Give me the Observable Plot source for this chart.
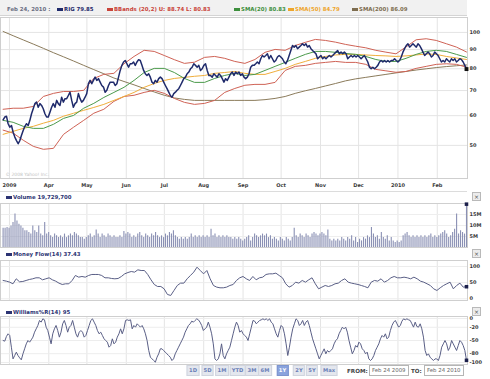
<!DOCTYPE html>
<html><head><meta charset="utf-8">
<script src="https://cdn.jsdelivr.net/npm/d3@7"></script>
<script src="https://cdn.jsdelivr.net/npm/@observablehq/plot@0.6"></script>
<style>
html,body{margin:0;padding:0;background:#fff;}
#wrap{position:relative;width:490px;height:379px;overflow:hidden;font-family:"DejaVu Sans",Verdana,sans-serif;}
#wrap svg{position:absolute;left:0;}
.t{position:absolute;white-space:nowrap;font-weight:bold;font-size:5.4px;line-height:6px;}
.mk{position:absolute;width:6px;height:3px;}
.btn{position:absolute;top:365px;height:11px;line-height:9px;font-size:5.2px;font-weight:bold;color:#6a7fb8;background:#e4e7ee;border:1px solid #d0d4de;transform:translateX(-50%);padding:0 1.5px;box-sizing:border-box;white-space:nowrap;}
.btn.on{background:#8aa3dd;color:#fff;border-color:#7d95cf;}
.inp{position:absolute;top:365px;height:11px;line-height:9px;font-size:5.4px;color:#666;border:1px solid #b5b5b5;background:#fff;box-sizing:border-box;padding-left:2px;}
.cls{position:absolute;left:472px;width:9px;height:9px;border:1px solid #b9b9b9;background:#ececec;box-sizing:border-box;font-size:6px;line-height:7px;text-align:center;color:#555;}
</style></head>
<body><div id="wrap"></div>
<script>
// ---------- data ----------
const rigClose = [58.5,59.5,59.8,57.1,55.9,56.5,54.2,52.6,51.5,50.5,51.5,53.2,54.8,56.2,57.1,56.5,58.3,60.7,62.6,64.6,65.2,63.2,64.6,63.9,62.6,60.7,59.5,59.5,61.3,63.2,64.6,63.2,65.9,64.6,63.9,67.2,65.2,66.6,66.6,67.9,69.3,65.9,63.2,64.6,65.2,68.7,66.6,65.2,65.9,67.2,68.7,73.0,74.5,73.0,74.5,76.0,74.5,75.3,73.7,72.2,71.5,69.3,70.1,72.2,73.7,73.7,
73.7,72.2,73.0,76.0,79.2,81.7,83.4,84.2,82.5,80.8,82.5,82.5,83.4,81.7,83.4,84.6,84.2,81.7,79.2,77.6,76.8,77.6,76.0,73.7,73.0,74.5,73.7,75.3,76.0,75.3,73.7,72.2,70.8,69.3,67.9,67.2,68.7,69.3,70.1,70.8,72.2,73.7,75.3,76.0,77.6,78.4,80.0,80.8,82.5,81.7,80.8,81.7,79.2,80.0,81.7,82.5,79.2,76.8,76.8,76.0,77.6,76.8,76.0,77.6,76.8,75.3,73.7,75.3,74.5,
76.0,77.6,78.4,76.8,78.4,77.6,78.4,76.8,77.6,76.0,75.3,76.0,77.6,80.8,81.7,81.7,82.5,83.4,82.5,85.1,86.8,86.0,86.8,87.7,85.1,86.8,85.1,83.4,84.2,86.0,86.8,86.0,85.1,83.4,82.5,84.2,86.8,89.5,92.3,91.4,92.3,90.5,91.4,92.3,93.3,92.3,93.3,91.4,92.3,90.5,89.5,88.6,87.7,85.1,86.0,86.8,85.1,86.0,85.1,86.0,86.8,86.0,86.8,87.7,88.6,89.5,87.7,88.6,87.7,
88.6,87.7,85.1,86.0,86.8,86.0,86.8,86.0,86.8,86.0,85.1,86.0,86.8,85.1,83.4,80.8,80.0,80.8,80.0,80.8,81.7,83.4,84.2,83.4,84.2,83.4,84.2,83.4,84.2,84.2,85.1,84.2,83.4,84.2,86.0,88.6,90.5,92.3,93.3,91.4,92.3,93.3,92.3,91.4,93.3,92.3,90.5,88.6,86.8,87.7,88.6,87.7,86.0,86.8,88.6,87.7,86.8,85.1,83.4,84.2,83.4,85.1,84.2,83.4,85.1,84.2,85.1,83.4,84.2,85.1,84.6,83.4,81.7,79.85];

const bbUpper = [62.4,62.8,62.8,63.5,67.5,68.8,69.6,69.6,70.1,75.4,77.3,77.8,82.5,86.3,89.6,89.0,86.8,84.6,82.7,83.3,85.8,86.3,85.3,83.7,82.7,84.7,88.5,90.1,89.6,92.3,94.1,95.8,95.2,94.2,92.9,91.9,91.0,89.6,88.6,87.7,91.5,95.6,96.2,95.2,93.3,91.4,88.7];
const bbLower = [54.9,53.9,51.6,49.7,48.8,49.1,53.5,55.9,58.3,60.9,62.4,65.5,67.5,68.0,69.2,70.1,68.8,66.7,65.1,64.3,64.7,65.9,69.2,70.9,72.3,72.7,72.7,73.6,79.2,81.2,81.7,82.7,83.2,83.7,83.2,83.2,82.2,79.7,79.0,78.3,78.7,80.2,81.2,82.2,82.5,82.2,80.8];
const sma20 = [58.3,57.6,56.2,55.5,55.5,56.9,59.0,60.1,62.8,64.7,67.1,69.2,71.4,74.5,78.2,80.2,80.2,78.2,75.4,73.6,73.6,75.4,76.8,77.8,76.8,77.3,79.2,81.2,83.2,85.3,87.4,89.0,89.0,88.5,87.9,87.4,86.3,84.7,83.7,83.7,85.3,87.4,89.0,89.6,89.0,87.4,85.8];
const sma50 = [53.5,54.5,55.5,56.2,57.3,58.3,59.8,60.9,62.0,63.1,64.3,65.9,67.5,69.2,71.4,73.1,74.5,75.4,75.9,76.4,76.8,77.8,78.2,78.7,77.8,77.3,77.3,78.7,80.2,82.2,83.7,85.3,86.3,87.1,87.4,87.4,87.1,86.8,86.6,86.3,86.6,87.1,87.6,87.4,86.3,85.5,84.7];
const sma200 = [100.6,98.0,95.5,93.1,90.7,88.3,86.1,83.9,81.7,79.6,77.6,75.6,74.0,72.5,70.9,69.4,68.0,66.9,66.3,65.9,65.9,65.9,65.9,65.9,65.9,65.9,66.2,66.7,67.5,68.8,69.9,70.9,72.0,73.1,74.3,75.2,75.9,76.6,77.3,78.0,78.7,79.4,80.0,80.6,81.1,81.5,81.9];

const volumeM = [8.8,8.8,9.1,8.8,9.8,11.4,15.2,12.1,10.6,9.8,8.8,7.6,7.6,6.8,6.1,9.8,7.6,6.8,9.8,6.1,5.3,11.4,6.1,6.8,5.3,4.5,6.1,5.3,4.5,5.3,4.5,6.1,4.5,5.3,6.1,5.3,6.8,6.1,5.3,4.5,4.5,3.8,4.5,5.3,6.1,4.5,5.3,7.9,6.1,4.5,6.1,5.3,4.5,6.1,5.3,4.5,5.3,4.5,4.5,5.3,4.5,7.3,6.1,6.8,6.1,4.5,5.3,4.5,6.1,6.8,5.3,4.5,6.1,5.3,4.5,6.1,5.3,6.8,5.3,4.5,5.3,4.5,6.1,5.3,6.8,6.1,7.6,5.3,4.5,3.8,4.5,3.8,4.5,3.8,4.5,6.1,4.5,5.3,4.5,5.3,4.5,5.3,4.5,5.3,4.5,8.3,5.3,6.1,4.5,5.3,4.5,5.3,4.5,5.3,4.5,4.5,3.8,4.5,3.8,4.5,3.8,3.0,3.8,
4.5,5.3,3.0,4.5,6.1,5.3,4.5,5.3,6.1,5.3,6.1,4.5,5.3,3.8,4.5,3.8,3.0,4.5,3.8,3.0,4.5,3.8,3.0,4.5,8.8,5.3,4.5,6.1,5.3,4.5,6.1,5.3,4.5,6.1,6.8,6.1,5.3,6.1,6.8,6.1,5.3,7.9,3.8,3.0,3.8,3.0,3.8,3.0,4.5,3.8,3.0,4.5,3.8,5.3,3.0,4.5,2.3,3.8,3.0,4.5,3.8,5.3,4.5,9.1,6.1,4.5,5.3,3.8,6.8,4.5,3.8,5.3,3.0,4.5,3.0,2.3,3.0,2.3,3.0,5.3,6.1,6.8,5.3,4.5,5.3,4.5,5.3,4.5,5.3,4.5,5.3,4.5,5.3,6.1,4.5,5.3,4.5,5.3,6.1,6.8,7.6,6.1,4.5,5.3,6.8,8.3,15.2,6.1,7.6,6.8,6.1,19.7];

const moneyFlow = [56.7,54.6,51.5,46.4,61.9,52.6,53.6,56.7,59.8,61.9,65.0,65.0,58.8,61.9,65.0,58.8,54.6,48.5,44.3,46.4,46.4,56.7,72.2,67.0,69.1,67.0,72.2,75.3,75.3,75.3,72.2,65.0,65.0,62.9,61.9,62.9,69.1,77.3,81.4,84.5,82.5,89.7,87.6,87.6,75.3,58.8,44.3,38.1,38.1,30.9,13.4,10.3,25.8,41.2,48.5,48.5,61.9,72.2,82.5,97.9,87.6,77.3,87.6,61.9,41.2,36.1,34.0,34.0,36.1,41.2,44.3,56.7,65.0,69.1,
61.9,56.7,69.1,58.8,65.0,67.0,75.3,77.3,77.3,79.4,72.2,65.0,46.4,36.1,41.2,51.5,48.5,56.7,51.5,58.8,65.0,46.4,30.9,36.1,41.2,38.1,41.2,46.4,48.5,56.7,61.9,51.5,48.5,46.4,44.3,41.2,38.1,34.0,51.5,56.7,54.6,61.9,51.5,56.7,65.0,69.1,65.0,65.0,67.0,65.0,61.9,67.0,61.9,54.6,51.5,46.4,41.2,30.9,25.8,34.0,41.2,46.4,51.5,30.9,41.2,48.5,36.1,37.4];

const williamsR = [-50.0,-51.5,-40.9,-34.8,-38.6,-65.2,-91.7,-84.1,-76.5,-84.1,-89.4,-93.9,-80.3,-68.9,-57.6,-50.0,-53.8,-48.5,-42.4,-31.1,-23.5,-15.9,-4.5,-8.3,-0.8,-3.0,-19.7,-27.3,-42.4,-57.6,-34.8,-23.5,-15.9,-27.3,-42.4,-31.1,-12.1,-4.5,-15.9,-31.1,-19.7,-15.9,-4.5,-19.7,-34.8,-42.4,-31.1,-27.3,-31.1,-42.4,-38.6,-27.3,-15.9,-4.5,-0.8,-8.3,-15.9,-27.3,-34.8,-31.1,-38.6,-46.2,-50.0,-53.8,-65.2,-61.4,-46.2,-57.6,-53.8,-42.4,-34.8,-23.5,-34.8,-23.5,-4.5,-3.0,-4.5,-3.0,-23.5,-15.9,-19.7,-12.1,-15.9,-19.7,-15.9,-23.5,-34.8,-50.0,-72.7,-87.9,-91.7,-95.5,-99.2,-87.9,-80.3,-68.9,-68.9,-72.7,-76.5,-80.3,-84.1,-87.9,-95.5,-91.7,-80.3,-72.7,-65.2,-57.6,-50.0,-42.4,-31.1,-23.5,-15.9,-12.1,-6.1,-8.3,-4.5,-0.8,-3.0,-8.3,-15.9,-27.3,-23.5,-19.7,-8.3,-19.7,-34.8,-57.6,-91.7,-95.5,-91.7,-80.3,-57.6,-84.1,-91.7,-80.3,-72.7,-65.2,-50.0,-34.8,-19.7,-8.3,-15.9,-31.1,-27.3,-34.8,-38.6,
-42.4,-50.0,-34.8,-19.7,-4.5,-6.1,-12.1,-8.3,-4.5,-3.0,-0.8,-3.0,-0.8,-4.5,-0.8,-8.3,-12.1,-23.5,-34.8,-42.4,-27.3,-15.9,-19.7,-34.8,-57.6,-84.1,-65.2,-42.4,-23.5,-12.1,-0.8,-4.5,-15.9,-12.1,-4.5,-15.9,-8.3,-4.5,-15.9,-31.1,-46.2,-57.6,-68.9,-80.3,-91.7,-84.1,-76.5,-68.9,-80.3,-72.7,-76.5,-72.7,-68.9,-57.6,-50.0,-46.2,-34.8,-27.3,-19.7,-23.5,-19.7,-31.1,-50.0,-65.2,-80.3,-72.7,-61.4,-65.2,-53.8,-57.6,-68.9,-72.7,-80.3,-76.5,-91.7,-95.5,-91.7,-84.1,-72.7,-65.2,-57.6,-46.2,-38.6,-42.4,-34.8,-46.2,-42.4,-27.3,-15.9,-8.3,-4.5,-12.1,-19.7,-15.9,-6.1,-0.8,-3.0,-0.8,-3.0,-4.5,-12.1,-19.7,-8.3,-18.2,-19.7,-12.1,-23.5,-42.4,-72.7,-84.1,-80.3,-87.9,-91.7,-95.5,-91.7,-91.7,-95.5,-84.1,-65.2,-57.6,-50.0,-57.6,-72.7,-65.2,-50.0,-57.6,-65.2,-72.7,-61.4,-50.0,-53.8,-61.4,-72.7,-95];

const monthTicks = ["2009-03-01","2009-04-01","2009-05-01","2009-06-01","2009-07-01","2009-08-01","2009-09-01","2009-10-01","2009-11-01","2009-12-01","2010-01-01","2010-02-01"];
const monthLabels = ["2009","Apr","May","Jun","Jul","Aug","Sep","Oct","Nov","Dec","2010","Feb"];
const priceTicks = [50,60,70,80,90,100];
const volTicks = [5,10,15];
const volTickLabels = ["5M","10M","15M"];
const mfTicks = [0,50,100];
const wrTicks = [0,-20,-50,-80,-100];
const rangeButtons = ["1D","5D","1M","YTD","3M","6M","1Y","2Y","5Y","Max"];
const legendItems = [
  {label:"RIG 79.85", color:"#1f2a6b", x:57},
  {label:"BBands (20,2) U: 88.74 L: 80.83", color:"#c9443a", x:107},
  {label:"SMA(20) 80.83", color:"#3d8f3d", x:234},
  {label:"SMA(50) 84.79", color:"#eea52c", x:288},
  {label:"SMA(200) 86.09", color:"#7d6d50", x:352}
];

// ---------- build ----------
const wrap = document.getElementById("wrap");
const DAY = 864e5;
const t0 = Date.UTC(2009,1,24), t1 = Date.UTC(2010,1,24);
const spread = vals => vals.map((v,i)=>({date:new Date(t0 + (t1-t0)*i/(vals.length-1)), value:v}));
const monthDates = monthTicks.map(s => new Date(s + "T00:00:00Z"));
const xScale = () => ({type:"utc", domain:[new Date(t0-2.05*DAY), new Date(t1+0.79*DAY)], range:[0,467], axis:null});
const baseStyle = {background:"transparent", fontFamily:"DejaVu Sans, Verdana, sans-serif", fontSize:"5px", overflow:"visible"};
const GRID = "#e4e4e4", FRAME = "#cfcfcf", LBL = "#3a3a3a";

function place(svg, top){ svg.style.top = top + "px"; wrap.appendChild(svg); }
function div(cls, text, css){ const d = document.createElement("div"); d.className = cls; if (text!=null) d.textContent = text; Object.assign(d.style, css); wrap.appendChild(d); return d; }

// header strip
div("", null, {position:"absolute", left:"0px", top:"0px", width:"467px", height:"16px", background:"#f1f1f1", borderBottom:"1px solid #d4d4d4", boxSizing:"border-box"});
div("t", "Feb 24, 2010 :", {left:"7px", top:"6px", color:"#6a6e82"});
legendItems.forEach(it => {
  div("mk", null, {left:it.x+"px", top:"7.5px", background:it.color});
  div("t", it.label, {left:(it.x+7)+"px", top:"6px", color:it.color});
});

// main price chart
const rigData = spread(rigClose);
const main = Plot.plot({
  width:490, height:175, marginTop:0, marginBottom:14, marginLeft:0, marginRight:23,
  x: xScale(),
  y: {type:"log", domain:[40.8,109.6], axis:null},
  style: baseStyle,
  marks: [
    Plot.ruleX(monthDates, {stroke:GRID}),
    Plot.ruleY(priceTicks, {stroke:GRID}),
    Plot.frame({stroke:FRAME}),
    Plot.text(monthDates, {x:d=>d, text:(d,i)=>monthLabels[i], frameAnchor:"bottom", dy:8, fill:LBL, fontWeight:"bold"}),
    Plot.text(priceTicks, {y:d=>d, text:d=>String(d), frameAnchor:"right", textAnchor:"start", dx:2, fill:LBL, fontWeight:"bold"}),
    Plot.text(["\u00a9 2008 Yahoo! Inc."], {frameAnchor:"bottom-left", dx:5, dy:-3, fill:"#c2c2c2", fontSize:4.5}),
    Plot.lineY(spread(sma200), {x:"date", y:"value", stroke:"#8b7b5b", strokeWidth:1}),
    Plot.lineY(spread(bbUpper), {x:"date", y:"value", stroke:"#cf6255", strokeWidth:1}),
    Plot.lineY(spread(bbLower), {x:"date", y:"value", stroke:"#cf6255", strokeWidth:1}),
    Plot.lineY(spread(sma50), {x:"date", y:"value", stroke:"#f0ae3c", strokeWidth:1}),
    Plot.lineY(spread(sma20), {x:"date", y:"value", stroke:"#4b9a4b", strokeWidth:1}),
    Plot.lineY(rigData, {x:"date", y:"value", stroke:"#1f2a6b", strokeWidth:1.5}),
    Plot.dot([rigData[rigData.length-1]], {x:"date", y:"value", symbol:"square", r:2.2, fill:"#111"})
  ]
});
place(main, 17);
div("", null, {position:"absolute", left:"0px", top:"191px", width:"467px", height:"0px", borderTop:"1px solid #dcdcdc"});

// volume panel
const volData = spread(volumeM);
div("mk", null, {left:"6px", top:"195.5px", background:"#2b3373"});
div("t", "Volume 19,729,700", {left:"13px", top:"194px", color:"#2b3373"});
const vol = Plot.plot({
  width:490, height:44, marginTop:0, marginBottom:0, marginLeft:0, marginRight:23,
  x: xScale(),
  y: {domain:[0,20], axis:null},
  style: baseStyle,
  marks: [
    Plot.ruleX(monthDates, {stroke:GRID}),
    Plot.ruleY(volTicks, {stroke:"#eeeeee"}),
    Plot.frame({stroke:FRAME}),
    Plot.ruleX(volData, {x:"date", y1:0, y2:"value", stroke:"#8a90b4", strokeWidth:1.1}),
    Plot.dot([volData[volData.length-1]], {x:"date", y:"value", symbol:"square", r:2, fill:"#1b1f4a"}),
    Plot.text(volTicks, {y:d=>d, text:(d,i)=>volTickLabels[i], frameAnchor:"right", textAnchor:"start", dx:2, fill:LBL, fontWeight:"bold"})
  ]
});
place(vol, 203);

// money flow panel
const mfData = spread(moneyFlow);
div("mk", null, {left:"6px", top:"252.5px", background:"#2b3373"});
div("t", "Money Flow(14) 37.43", {left:"13px", top:"251px", color:"#2b3373"});
const mf = Plot.plot({
  width:490, height:40, marginTop:0, marginBottom:0, marginLeft:0, marginRight:23,
  x: xScale(),
  y: {domain:[-5.3,118.6], axis:null},
  style: baseStyle,
  marks: [
    Plot.ruleX(monthDates, {stroke:GRID}),
    Plot.ruleY(mfTicks, {stroke:"#ececec"}),
    Plot.frame({stroke:FRAME}),
    Plot.lineY(mfData, {x:"date", y:"value", stroke:"#5a5f86", strokeWidth:1}),
    Plot.dot([mfData[mfData.length-1]], {x:"date", y:"value", symbol:"square", r:2, fill:"#1b1f4a"}),
    Plot.text(mfTicks, {y:d=>d, text:d=>String(d), frameAnchor:"right", textAnchor:"start", dx:2, fill:LBL, fontWeight:"bold"})
  ]
});
place(mf, 260);

// Williams %R panel
const wrData = spread(williamsR);
div("mk", null, {left:"6px", top:"310.5px", background:"#2b3373"});
div("t", "Williams%R(14) 95", {left:"13px", top:"309px", color:"#2b3373"});
const wr = Plot.plot({
  width:490, height:48, marginTop:0, marginBottom:0, marginLeft:0, marginRight:23,
  x: xScale(),
  y: {domain:[-104.5,4.5], axis:null},
  style: baseStyle,
  marks: [
    Plot.ruleX(monthDates, {stroke:GRID}),
    Plot.ruleY(wrTicks, {stroke:"#ededed"}),
    Plot.frame({stroke:FRAME}),
    Plot.lineY(wrData, {x:"date", y:"value", stroke:"#5a5f86", strokeWidth:1}),
    Plot.dot([wrData[wrData.length-1]], {x:"date", y:"value", symbol:"square", r:2, fill:"#1b1f4a"}),
    Plot.text(wrTicks, {y:d=>d, text:d=>String(d), frameAnchor:"right", textAnchor:"start", dx:2, fill:LBL, fontWeight:"bold"})
  ]
});
place(wr, 316);

// close buttons
[191.5, 248.5, 306.5].forEach(t => div("cls", "\u00d7", {top:t+"px"}));

// range buttons and date boxes
const btnCenters = [193,207.5,222,237.5,252,265,282.5,299,312,329];
rangeButtons.forEach((b,i) => div("btn" + (b==="1Y" ? " on" : ""), b, {left:btnCenters[i]+"px"}));
div("t", "FROM:", {left:"347px", top:"368px", color:"#444", fontSize:"5.6px"});
div("inp", "Feb 24 2009", {left:"369px", width:"40px"});
div("t", "TO:", {left:"411px", top:"368px", color:"#444", fontSize:"5.6px"});
div("inp", "Feb 24 2010", {left:"424px", width:"40px"});
</script>
</body></html>
